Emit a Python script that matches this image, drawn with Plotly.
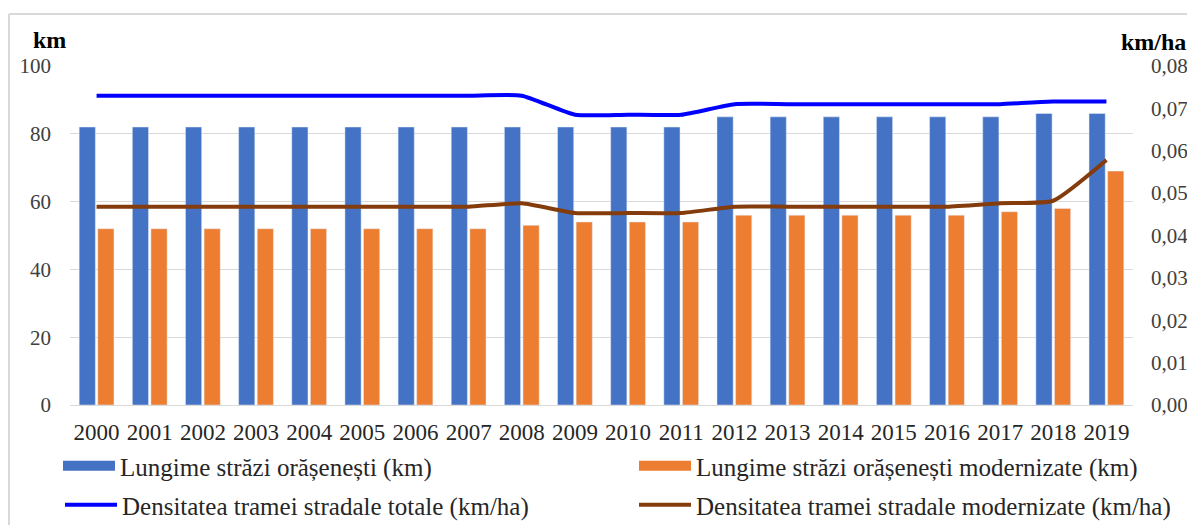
import plotly.graph_objects as go

years = [str(y) for y in range(2000, 2020)]
lungime = [82, 82, 82, 82, 82, 82, 82, 82, 82, 82, 82, 82, 85, 85, 85, 85, 85, 85, 86, 86]
lungime_mod = [52, 52, 52, 52, 52, 52, 52, 52, 53, 54, 54, 54, 56, 56, 56, 56, 56, 57, 58, 69]
dens_total = [0.073, 0.073, 0.073, 0.073, 0.073, 0.073, 0.073, 0.073, 0.073, 0.0685, 0.0685, 0.0685,
              0.071, 0.071, 0.071, 0.071, 0.071, 0.071, 0.0716, 0.0716]
dens_mod = [0.0468, 0.0468, 0.0468, 0.0468, 0.0468, 0.0468, 0.0468, 0.0468, 0.0476, 0.0453, 0.0453, 0.0453,
            0.0468, 0.0468, 0.0468, 0.0468, 0.0468, 0.0476, 0.0482, 0.0578]

names = ["Lungime străzi orășenești (km)", "Lungime străzi orășenești modernizate (km)",
         "Densitatea tramei stradale totale (km/ha)", "Densitatea tramei stradale modernizate (km/ha)"]
colors = ["#4472C4", "#ED7D31", "#0000FF", "#843C0C"]

FONT = "Liberation Serif, Times New Roman, serif"

# page body has an 8px margin, so the figure is drawn 8px smaller than the window
W, H = 1187, 517
L, R, T, B = 62, 62, 58, 120
PW, PH = W - L - R, H - T - B

def px_x(x):
    return (x - 8 - L) / PW

def px_y(y):
    return (H - B - (y - 8)) / PH

fig = go.Figure()
fig.add_trace(go.Bar(x=years, y=lungime, name=names[0], marker_color=colors[0], yaxis="y",
                     showlegend=False))
fig.add_trace(go.Bar(x=years, y=lungime_mod, name=names[1], marker_color=colors[1], yaxis="y",
                     showlegend=False))
fig.add_trace(go.Scatter(x=years, y=dens_total, name=names[2], mode="lines", legend="legend3",
                         line=dict(color=colors[2], width=4, shape="spline", smoothing=0.5), yaxis="y2"))
fig.add_trace(go.Scatter(x=years, y=dens_mod, name=names[3], mode="lines", legend="legend4",
                         line=dict(color=colors[3], width=4, shape="spline", smoothing=0.5), yaxis="y2"))
# legend keys for the bar series (wide filled rectangles, as in the original)
fig.add_trace(go.Scatter(x=[None], y=[None], name=names[0], mode="lines", legend="legend",
                         line=dict(color=colors[0], width=10), hoverinfo="skip"))
fig.add_trace(go.Scatter(x=[None], y=[None], name=names[1], mode="lines", legend="legend2",
                         line=dict(color=colors[1], width=10), hoverinfo="skip"))

IW = 52
leg_common = dict(orientation="h", xanchor="left", yanchor="middle",
                  font=dict(family=FONT, size=25, color="#262626"), itemwidth=IW,
                  bgcolor="rgba(0,0,0,0)")
text_off = IW + 10 + 1

fig.update_layout(
    width=W, height=H,
    margin=dict(l=L, r=R, t=T, b=B, autoexpand=False),
    paper_bgcolor="white", plot_bgcolor="white",
    separators=",.",
    font=dict(family=FONT, size=21, color="#404040"),
    barmode="group", bargap=0.3, bargroupgap=0.13,
    showlegend=True,
    legend=dict(x=px_x(121 - text_off), y=px_y(466), **leg_common),
    legend2=dict(x=px_x(697 - text_off), y=px_y(466), **leg_common),
    legend3=dict(x=px_x(123 - text_off), y=px_y(505), **leg_common),
    legend4=dict(x=px_x(697 - text_off), y=px_y(505), **leg_common),
    xaxis=dict(type="category", showgrid=False, showline=True, linecolor="#D9D9D9", linewidth=1,
               ticks="", tickfont=dict(size=23, color="#262626"), ticklabelstandoff=6),
    yaxis=dict(range=[0, 100], dtick=20, showgrid=True, gridcolor="#D9D9D9", gridwidth=1,
               zeroline=False, ticks="", tickfont=dict(size=21, color="#404040"), ticklabelstandoff=18),
    yaxis2=dict(range=[0, 0.08], dtick=0.01, tickformat=".2f", overlaying="y", side="right",
                showgrid=False, zeroline=False, ticks="", tickfont=dict(size=21, color="#404040"),
                ticklabelstandoff=17),
    annotations=[
        dict(text="<b>km</b>", xref="paper", yref="paper", x=px_x(68), y=px_y(40),
             xanchor="right", yanchor="middle", showarrow=False,
             font=dict(family=FONT, size=24, color="#000000")),
        dict(text="<b>km/ha</b>", xref="paper", yref="paper", x=px_x(1188), y=px_y(42),
             xanchor="right", yanchor="middle", showarrow=False,
             font=dict(family=FONT, size=24, color="#000000")),
    ],
    shapes=[
        dict(type="line", xref="paper", yref="paper", x0=px_x(9), x1=1.2, y0=px_y(14), y1=px_y(14),
             line=dict(color="#D9D9D9", width=2)),
        dict(type="line", xref="paper", yref="paper", x0=px_x(9), x1=px_x(9), y0=px_y(14), y1=-0.5,
             line=dict(color="#D9D9D9", width=2)),
    ],
)

fig.write_html("out.html")
